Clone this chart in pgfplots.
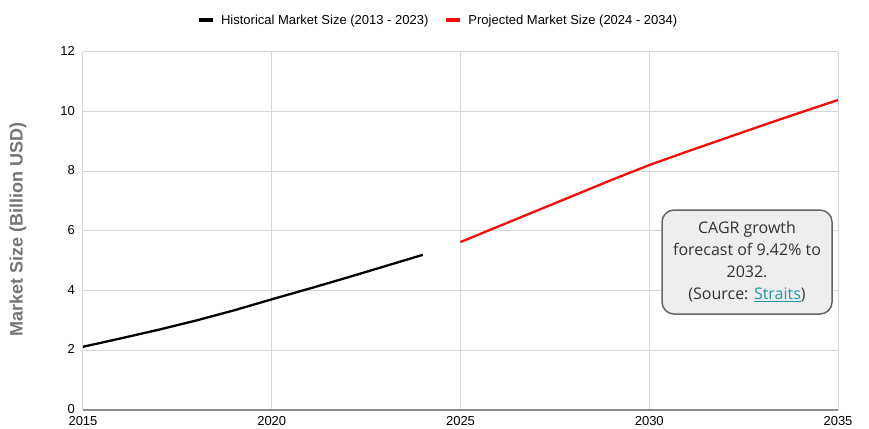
\documentclass[border=0pt]{standalone}
\usepackage{fontspec}
\setmainfont{Liberation Sans}
\newfontfamily\boxfont{Open Sans}
\usepackage{pgfplots}
\pgfplotsset{compat=1.18}
\usepackage{pgfplotstable}
\definecolor{gridgray}{HTML}{D6D6D6}
\definecolor{axisgray}{HTML}{8A8A8A}
\definecolor{labelgray}{HTML}{757575}
\definecolor{boxfill}{HTML}{EEEEEE}
\definecolor{boxdraw}{HTML}{666666}
\definecolor{boxtext}{HTML}{333333}
\definecolor{linkteal}{HTML}{1B9AAA}
\definecolor{projred}{HTML}{F20D0D}

\pgfplotstableread{
year value
2015 2.12
2016 2.40
2017 2.69
2018 3.00
2019 3.34
2020 3.71
2021 4.07
2022 4.44
2023 4.82
2024 5.20
}\historical

\pgfplotstableread{
year value
2025 5.63
2026 6.15
2027 6.67
2028 7.19
2029 7.71
2030 8.21
2031 8.66
2032 9.10
2033 9.54
2034 9.97
2035 10.39
}\projected

\begin{document}
\begin{tikzpicture}
\begin{axis}[
  scale only axis,
  width=755pt, height=358pt,
  xmin=2015, xmax=2035, ymin=0, ymax=12,
  xtick={2015,2020,2025,2030,2035},
  ytick={0,2,4,6,8,10,12},
  xticklabel={\pgfmathprintnumber[1000 sep={}]{\tick}},
  /pgf/number format/assume math mode=true,
  /pgf/number format/1000 sep={},
  grid=major,
  major grid style={draw=gridgray, line width=1pt},
  axis line style={draw=none},
  major tick length=0pt,
  tick style={draw=none},
  ticklabel style={font=\fontsize{13}{15}\selectfont},
  xticklabel style={inner sep=0pt, yshift=-6pt, anchor=north},
  yticklabel style={inner sep=0pt, xshift=-8pt, yshift=1pt, anchor=east},
  ylabel={Market Size (Billion USD)},
  every axis y label/.style={at={(rel axis cs:-0.086,0.503)}, rotate=90, anchor=center,
     font=\fontsize{18}{20}\selectfont\bfseries, text=labelgray},
  legend columns=2,
  legend style={
    at={(rel axis cs:0.4704,1.089)}, anchor=center,
    draw=none, fill=none,
    font=\fontsize{13}{15}\selectfont,
    /tikz/every even column/.append style={column sep=14pt},
    /tikz/every odd column/.append style={column sep=4pt},
    nodes={inner sep=2pt},
  },
  legend image code/.code={\draw[#1, line width=4pt] (0pt,0pt) -- (14pt,0pt);},
]
\draw[axisgray, line width=1.5pt] (rel axis cs:0,0) -- (rel axis cs:1,0);
\addplot[black, line width=2.3pt, no marks] table[x=year, y=value] {\historical};
\addlegendentry{Historical Market Size (2013 - 2023)}
\addplot[projred, line width=2.3pt, no marks] table[x=year, y=value] {\projected};
\addlegendentry{Projected Market Size (2024 - 2034)}
\node[draw=boxdraw, fill=boxfill, line width=1.5pt, rounded corners=12pt,
      minimum width=170pt, minimum height=104pt, align=center,
      text=boxtext, font=\boxfont\fontsize{16}{22}\selectfont, inner sep=0pt]
  at (axis cs:2032.59,4.96)
  {CAGR growth\\forecast of 9.42\% to\\2032.\\(Source: \textcolor{linkteal}{\underline{Straits}})};
\coordinate (O) at (rel axis cs:0,0);
\end{axis}
\pgfresetboundingbox
\path ([shift={(-83pt,-18pt)}]O) rectangle ([shift={(786pt,410pt)}]O);
\end{tikzpicture}
\end{document}
